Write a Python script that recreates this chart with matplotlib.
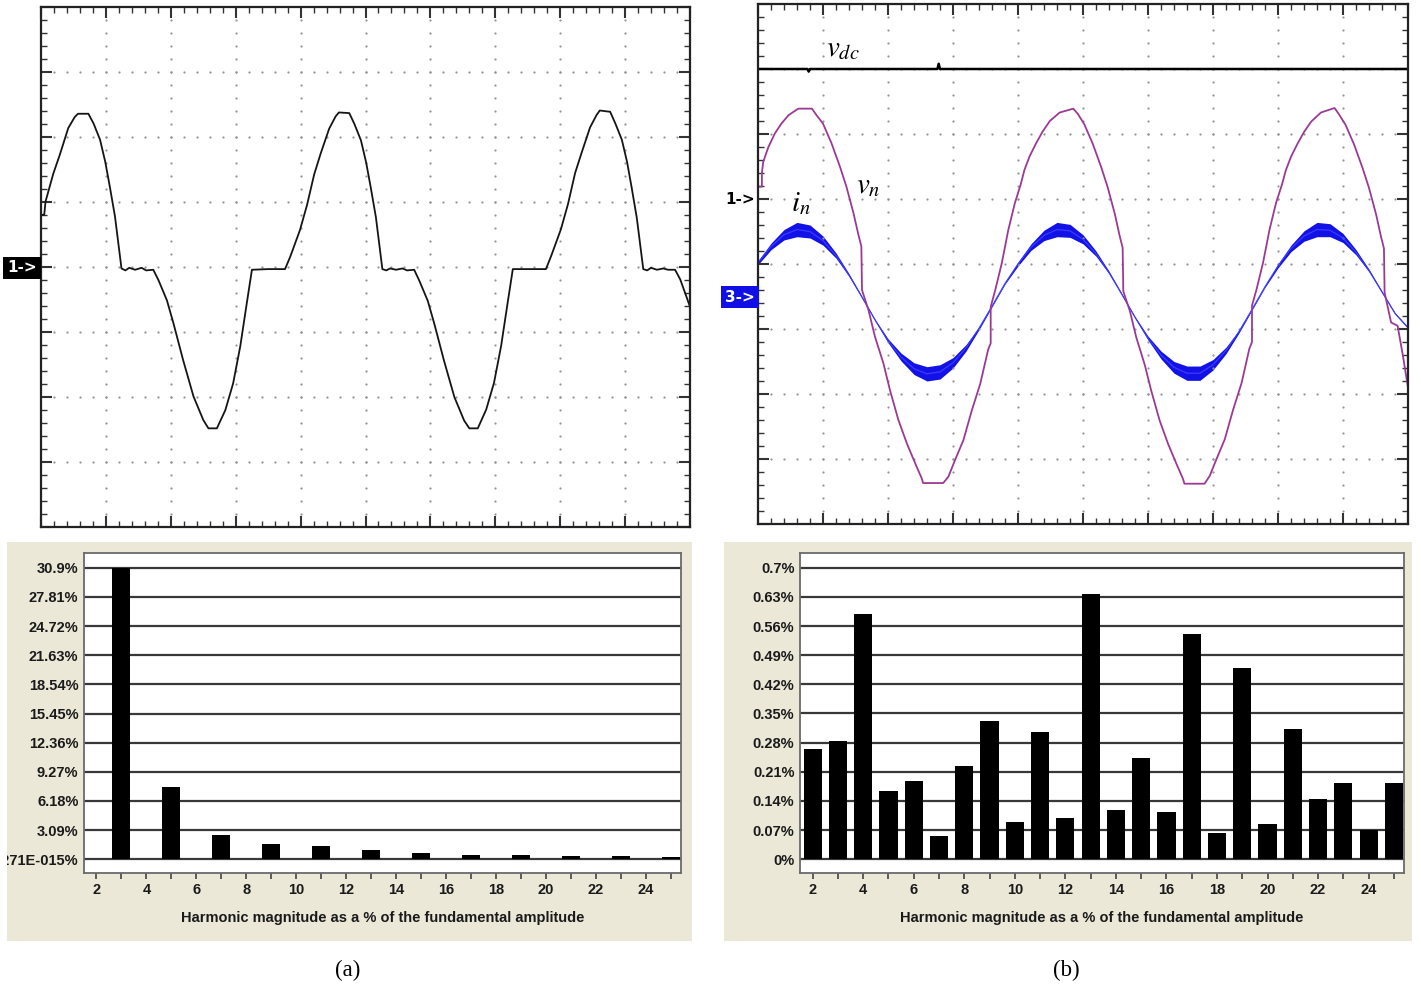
import numpy as np
import matplotlib.pyplot as plt
from matplotlib.patches import Rectangle
from matplotlib.transforms import Bbox, TransformedBbox

plt.rcParams['mathtext.fontset'] = 'stix'

W, H = 1421, 989

# ---- scope traces, in divisions (x: 0..10, y: -4..4) ----
# (a) phase voltage of the 2-level stage
wave_a_t = [0.00, 0.05, 0.07, 0.19, 0.29, 0.42, 0.52, 0.57, 0.73, 0.81, 0.91, 0.99, 1.06, 1.14,
            1.24, 1.30, 1.36, 1.45, 1.55, 1.62, 1.73, 1.81, 1.94, 2.04, 2.19, 2.35, 2.50, 2.58,
            2.71, 2.84, 2.96, 3.07, 3.17, 3.25, 3.50, 3.76, 3.84, 3.99,
            4.10, 4.21, 4.31, 4.44, 4.54, 4.59, 4.75, 4.83, 4.93, 5.01, 5.08, 5.16, 5.26, 5.32,
            5.38, 5.47, 5.57, 5.64, 5.75, 5.83, 5.96, 6.06, 6.21, 6.37, 6.52, 6.60, 6.73, 6.86,
            6.98, 7.09, 7.19, 7.27, 7.52, 7.78, 7.86, 8.01,
            8.12, 8.23, 8.33, 8.46, 8.56, 8.61, 8.77, 8.85, 8.95, 9.03, 9.10, 9.18, 9.28, 9.34,
            9.40, 9.49, 9.59, 9.66, 9.77, 9.85, 9.94, 10.0]
wave_a_v = [0.79, 0.80, 1.00, 1.43, 1.72, 2.13, 2.30, 2.35, 2.35, 2.20, 1.95, 1.61, 1.23, 0.77,
            -0.03, -0.06, -0.02, -0.05, -0.02, -0.06, -0.05, -0.21, -0.52, -0.87, -1.44, -2.00, -2.36, -2.49,
            -2.49, -2.21, -1.80, -1.23, -0.57, -0.05, -0.04, -0.04, 0.15, 0.56,
            0.95, 1.42, 1.74, 2.12, 2.31, 2.37, 2.36, 2.19, 1.94, 1.60, 1.22, 0.76, -0.04, -0.06,
            -0.03, -0.05, -0.03, -0.06, -0.05, -0.22, -0.53, -0.88, -1.45, -2.01, -2.37, -2.49, -2.49, -2.20,
            -1.79, -1.22, -0.56, -0.04, -0.04, -0.04, 0.16, 0.57,
            0.96, 1.44, 1.75, 2.14, 2.33, 2.40, 2.38, 2.20, 1.95, 1.61, 1.22, 0.75, -0.04, -0.06,
            -0.02, -0.05, -0.03, -0.05, -0.05, -0.20, -0.45, -0.62]

# (b) dc-link voltage
vdc_t = [0.0, 0.76, 0.78, 0.80, 2.76, 2.78, 2.80, 10.0]
vdc_v = [3.0, 3.0, 2.96, 3.0, 3.0, 3.08, 3.0, 3.0]

# (b) multilevel output voltage
vn_t = [0.00, 0.06, 0.06, 0.08, 0.16, 0.26, 0.36, 0.47, 0.62, 0.83, 0.90, 1.00, 1.13, 1.26,
        1.36, 1.47, 1.54, 1.59, 1.60, 1.70, 1.80, 1.93, 2.03, 2.16, 2.29, 2.42, 2.52, 2.54,
        2.85, 2.93, 3.03, 3.16, 3.29, 3.42, 3.54, 3.58, 3.58, 3.65, 3.75, 3.85, 3.95,
        4.04, 4.10, 4.18, 4.28, 4.38, 4.49, 4.64, 4.85, 4.92, 5.02, 5.15, 5.28, 5.38, 5.49,
        5.56, 5.61, 5.62, 5.72, 5.82, 5.95, 6.05, 6.18, 6.31, 6.44, 6.54, 6.56, 6.87, 6.95,
        7.05, 7.18, 7.31, 7.44, 7.56, 7.60, 7.60, 7.67, 7.77, 7.87, 7.97,
        8.06, 8.12, 8.20, 8.30, 8.40, 8.51, 8.66, 8.87, 8.94, 9.04, 9.17, 9.30, 9.40, 9.51,
        9.58, 9.63, 9.64, 9.74, 9.84, 9.92, 10.0]
vn_v = [1.19, 1.19, 1.40, 1.57, 1.80, 2.01, 2.16, 2.29, 2.39, 2.39, 2.29, 2.16, 1.86, 1.50,
        1.19, 0.78, 0.47, 0.27, -0.40, -0.71, -1.12, -1.53, -1.94, -2.40, -2.76, -3.07, -3.30, -3.37,
        -3.37, -3.27, -3.02, -2.71, -2.25, -1.84, -1.32, -1.22, -0.66, -0.40, 0.01, 0.52, 0.93,
        1.22, 1.45, 1.66, 1.86, 2.04, 2.20, 2.33, 2.39, 2.31, 2.15, 1.85, 1.49, 1.18, 0.77,
        0.45, 0.25, -0.42, -0.72, -1.13, -1.55, -1.95, -2.41, -2.77, -3.08, -3.31, -3.38, -3.38, -3.26,
        -3.01, -2.70, -2.24, -1.83, -1.30, -1.20, -0.64, -0.39, 0.02, 0.53, 0.94,
        1.22, 1.44, 1.65, 1.85, 2.03, 2.19, 2.33, 2.40, 2.30, 2.14, 1.84, 1.48, 1.17, 0.76,
        0.44, 0.24, -0.44, -0.90, -0.95, -1.40, -1.90]

# (b) load current, read at every minor division, with its switching ripple band
in_t = [round(0.2 * k, 1) for k in range(51)]
in_v = [0.02, 0.27, 0.45, 0.53, 0.50, 0.36, 0.13, -0.17, -0.51, -0.86,
        -1.18, -1.43, -1.61, -1.69, -1.66, -1.52, -1.29, -0.99, -0.65, -0.30,
        0.00, 0.26, 0.44, 0.53, 0.51, 0.38, 0.16, -0.13, -0.47, -0.82,
        -1.14, -1.40, -1.59, -1.68, -1.68, -1.55, -1.33, -1.04, -0.70, -0.35,
        -0.03, 0.24, 0.43, 0.53, 0.52, 0.40, 0.18, -0.10, -0.43, -0.76, -0.98]
in_ripple = [0.03, 0.05, 0.08, 0.11, 0.10, 0.07, 0.04, 0.02, 0.01, 0.01,
             0.03, 0.06, 0.09, 0.11, 0.11, 0.08, 0.05, 0.02, 0.01, 0.01,
             0.03, 0.05, 0.08, 0.11, 0.10, 0.07, 0.04, 0.02, 0.01, 0.01,
             0.03, 0.06, 0.09, 0.11, 0.11, 0.08, 0.05, 0.02, 0.01, 0.01,
             0.03, 0.05, 0.08, 0.11, 0.10, 0.07, 0.04, 0.02, 0.01, 0.01, 0.01]

# ---- harmonic spectra (% of fundamental) ----
orders_a = [3, 5, 7, 9, 11, 13, 15, 17, 19, 21, 23, 25]
thd_a = [30.9, 7.63, 2.54, 1.62, 1.41, 0.95, 0.64, 0.49, 0.49, 0.39, 0.39, 0.25]
yticks_a = [0, 3.09, 6.18, 9.27, 12.36, 15.45, 18.54, 21.63, 24.72, 27.81, 30.9]
ylabels_a = ['-2.271E-015%', '3.09%', '6.18%', '9.27%', '12.36%', '15.45%', '18.54%',
             '21.63%', '24.72%', '27.81%', '30.9%']

orders_b = list(range(2, 26))
thd_b = [0.264, 0.284, 0.590, 0.164, 0.187, 0.056, 0.225, 0.333, 0.089, 0.305, 0.100, 0.637,
         0.118, 0.243, 0.114, 0.541, 0.063, 0.459, 0.084, 0.312, 0.144, 0.184, 0.070, 0.182]
yticks_b = [0, 0.07, 0.14, 0.21, 0.28, 0.35, 0.42, 0.49, 0.56, 0.63, 0.7]
ylabels_b = ['0%', '0.07%', '0.14%', '0.21%', '0.28%', '0.35%', '0.42%', '0.49%',
             '0.56%', '0.63%', '0.7%']

xlabel = 'Harmonic magnitude as a % of the fundamental amplitude'


def box(x0, y0, x1, y1):
    return [x0 / W, 1 - y1 / H, (x1 - x0) / W, (y1 - y0) / H]


def scope(rect):
    ax = fig.add_axes(box(*rect))
    ax.set_xlim(0, 10)
    ax.set_ylim(-4, 4)
    for s in ax.spines.values():
        s.set_linewidth(1.6)
        s.set_color('#222222')
    ax.set_xticks(np.arange(0, 11, 1))
    ax.set_xticks(np.arange(0, 10.01, 0.2), minor=True)
    ax.set_yticks(np.arange(-4, 5, 1))
    ax.set_yticks(np.arange(-4, 4.01, 0.2), minor=True)
    ax.tick_params(which='both', direction='in', top=True, right=True,
                   labelbottom=False, labelleft=False, color='#333333')
    ax.tick_params(which='major', length=8, width=1.5)
    ax.tick_params(which='minor', length=4, width=1.0)
    xs = np.arange(0.2, 9.9, 0.2)
    ys = np.arange(-3.8, 3.9, 0.2)
    for k in range(-3, 4):
        ax.plot(xs, np.full_like(xs, k), ls='none', marker='o', ms=1.6,
                mfc='#959595', mec='none')
    for k in range(1, 10):
        ax.plot(np.full_like(ys, k), ys, ls='none', marker='o', ms=1.6,
                mfc='#959595', mec='none')
    return ax


def spectrum(rect, panel, orders, values, yticks, ylabels, ylim):
    fig.add_artist(Rectangle((panel[0] / W, 1 - panel[3] / H),
                             (panel[2] - panel[0]) / W, (panel[3] - panel[1]) / H,
                             transform=fig.transFigure, fc='#ebe8d8', ec='none', zorder=0))
    ax = fig.add_axes(box(*rect))
    ax.set_facecolor('white')
    ax.bar(orders, values, width=0.72, color='black', zorder=3)
    ax.set_xlim(1.5, 25.4)
    ax.set_ylim(*ylim)
    ax.set_yticks(yticks, ylabels)
    ax.yaxis.grid(True, color='#383838', lw=1.6)
    ax.set_axisbelow(True)
    ax.set_xticks(range(2, 26, 2))
    ax.set_xticks(range(3, 26, 2), minor=True)
    ax.tick_params(axis='y', length=0, pad=4)
    ax.tick_params(axis='x', which='both', direction='out', length=4, width=1.2,
                   color='#444444', pad=3)
    for s in ax.spines.values():
        s.set_color('#6a6a6a')
        s.set_linewidth(1.3)
    for lbl in ax.get_xticklabels() + ax.get_yticklabels():
        lbl.set_fontfamily('Liberation Sans')
        lbl.set_fontweight('bold')
        lbl.set_fontsize(10.5)
        lbl.set_color('#1a1a1a')
    clip = TransformedBbox(Bbox([[panel[0] / W, 0], [panel[2] / W, 1]]), fig.transFigure)
    for lbl in ax.get_yticklabels():
        lbl.set_clip_box(clip)
        lbl.set_clip_on(True)
    ax.set_xlabel(xlabel, family='Liberation Sans', weight='bold', size=10.5,
                  color='#1a1a1a', va='center')
    ax.xaxis.set_label_coords(0.5, -0.142)
    return ax


fig = plt.figure(figsize=(W / 100, H / 100), dpi=100)

# (a) oscilloscope
ax1 = scope((41, 6.5, 690, 526.5))
ax1.plot(wave_a_t, wave_a_v, color='#151515', lw=1.3)
fig.text(22 / W, 1 - 268 / H, '1->', color='white', weight='bold', size=11,
         ha='center', va='center',
         bbox=dict(boxstyle='square,pad=0.25', fc='black', ec='none'))

# (b) oscilloscope
ax2 = scope((758, 4, 1408, 524))
ax2.plot(vdc_t, vdc_v, color='black', lw=1.8)
ax2.fill_between(in_t, np.array(in_v) - np.array(in_ripple),
                 np.array(in_v) + np.array(in_ripple), color='#1212e6', lw=0)
ax2.plot(in_t, in_v, color='#3b3bff', lw=0.9)
ax2.plot(vn_t, vn_v, color='#9b3a95', lw=1.3)
ax2.text(1.31, 3.32, r'$v_{dc}$', size=21, ha='center', va='center')
ax2.text(1.69, 1.22, r'$v_n$', size=21, ha='center', va='center')
ax2.text(0.66, 0.94, r'$i_n$', size=21, ha='center', va='center')
fig.text(740 / W, 1 - 200 / H, '1->', color='black', weight='bold', size=11,
         ha='center', va='center')
fig.text(740 / W, 1 - 297 / H, '3->', color='white', weight='bold', size=11,
         ha='center', va='center',
         bbox=dict(boxstyle='square,pad=0.25', fc='#1010e6', ec='none'))

# harmonic spectra
spectrum((84, 553, 681, 873), (7, 542, 692, 941), orders_a, thd_a,
         yticks_a, ylabels_a, (-1.45, 32.46))
spectrum((800, 553, 1404, 873), (724, 542, 1412, 941), orders_b, thd_b,
         yticks_b, ylabels_b, (-0.0329, 0.7353))

fig.text(348 / W, 1 - 970 / H, '(a)', family='Liberation Serif', size=16.5,
         ha='center', va='center')
fig.text(1066 / W, 1 - 970 / H, '(b)', family='Liberation Serif', size=16.5,
         ha='center', va='center')

fig.savefig('out.png', dpi=100)
